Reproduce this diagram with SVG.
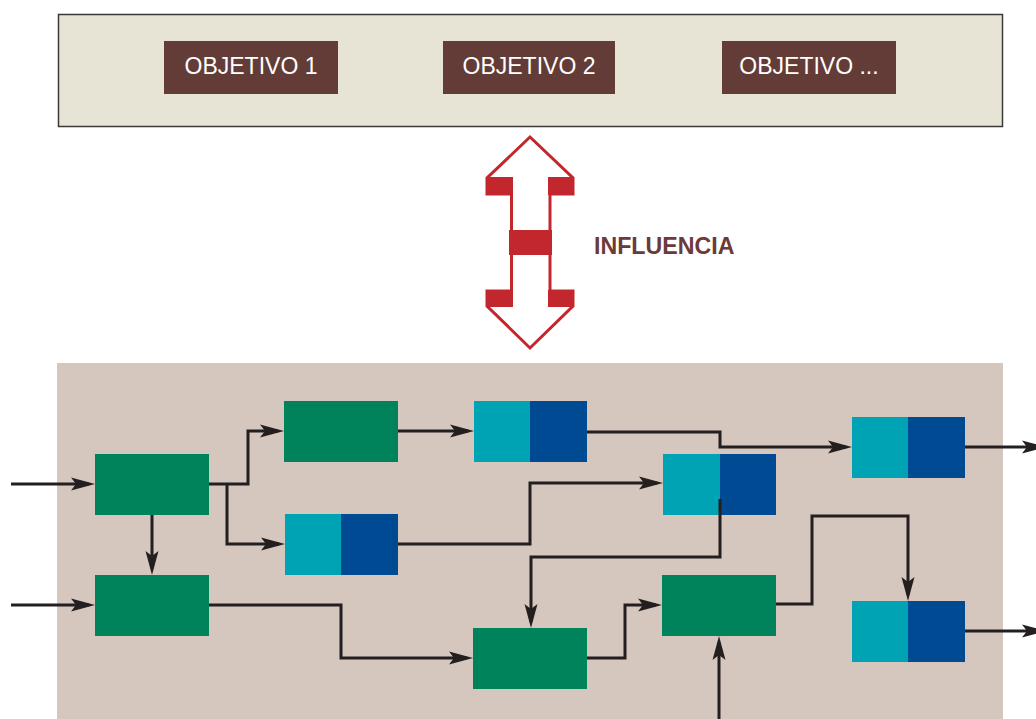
<svg xmlns="http://www.w3.org/2000/svg" width="1036" height="719" viewBox="0 0 1036 719">
<defs>
<style>
.obj{fill:#633c38}
.objt{fill:#ffffff;font-family:"Liberation Sans",Arial,sans-serif;font-size:23px;text-anchor:middle}
.green{fill:#00835a}
.cyan{fill:#00a3b4}
.blue{fill:#004a93}
.red{fill:#c1272d}
.conn{fill:none;stroke:#231f20;stroke-width:3;stroke-linejoin:miter}
.arr{marker-end:url(#ah)}
</style>
<marker id="ah" markerUnits="userSpaceOnUse" viewBox="0 0 24 14" refX="18" refY="7" markerWidth="24" markerHeight="14" orient="auto">
<path d="M0,0.5 L24,7 L0,13.5 L5,7 Z" fill="#231f20"/>
</marker>
</defs>
<rect width="1036" height="719" fill="#ffffff"/>

<g id="objetivos">
<rect x="58.5" y="14.5" width="944" height="112" fill="#e7e4d6" stroke="#3a3a3a" stroke-width="1.5"/>
<g id="objetivo1"><rect class="obj" x="164" y="41" width="174" height="53"/><text class="objt" x="251" y="74">OBJETIVO 1</text></g>
<g id="objetivo2"><rect class="obj" x="443" y="41" width="172" height="53"/><text class="objt" x="529" y="74">OBJETIVO 2</text></g>
<g id="objetivo3"><rect class="obj" x="722" y="41" width="174" height="53"/><text class="objt" x="809" y="74">OBJETIVO ...</text></g>
</g>

<g id="influencia">
<path d="M530,137 L573,178 L573,194 L550,194 L550,291 L573,291 L573,306 L530,348 L487,306 L487,291 L511.5,291 L511.5,194 L487,194 L487,178 Z" fill="#ffffff" stroke="#c1272d" stroke-width="3" stroke-linejoin="miter"/>
<rect class="red" x="487" y="177" width="26" height="18"/>
<rect class="red" x="548" y="177" width="26" height="18"/>
<rect class="red" x="509" y="230" width="43" height="25"/>
<rect class="red" x="487" y="290" width="26" height="17"/>
<rect class="red" x="548" y="290" width="26" height="17"/>
<text x="594" y="254" fill="#6b3a39" font-family="'Liberation Sans',Arial,sans-serif" font-size="23.2" font-weight="bold">INFLUENCIA</text>
</g>

<rect id="proceso" x="57" y="363" width="946" height="356" fill="#d5c6be"/>

<g id="nA"><rect class="green" x="95" y="454" width="114" height="61"/></g>
<g id="nB"><rect class="green" x="95" y="575" width="114" height="61"/></g>
<g id="nC"><rect class="green" x="284" y="401" width="114" height="61"/></g>
<g id="nD"><rect class="cyan" x="285" y="514" width="56" height="61"/><rect class="blue" x="341" y="514" width="57" height="61"/></g>
<g id="nE"><rect class="cyan" x="474" y="401" width="56" height="61"/><rect class="blue" x="530" y="401" width="57" height="61"/></g>
<g id="nF"><rect class="cyan" x="663" y="454" width="57" height="61"/><rect class="blue" x="720" y="454" width="56" height="61"/></g>
<g id="nG"><rect class="cyan" x="852" y="417" width="56" height="61"/><rect class="blue" x="908" y="417" width="57" height="61"/></g>
<g id="nH"><rect class="cyan" x="852" y="601" width="56" height="61"/><rect class="blue" x="908" y="601" width="57" height="61"/></g>
<g id="nI"><rect class="green" x="473" y="628" width="114" height="61"/></g>
<g id="nJ"><rect class="green" x="662" y="575" width="114" height="61"/></g>

<g id="connectors">
<path class="conn arr" d="M11,484 H89"/>
<path class="conn arr" d="M11,605 H89"/>
<path class="conn arr" d="M152,515 V569"/>
<path class="conn arr" d="M209,484 H248 V431 H278"/>
<path class="conn arr" d="M227,484 V544 H279"/>
<path class="conn arr" d="M209,605 H341 V658 H467"/>
<path class="conn arr" d="M398,431 H468"/>
<path class="conn arr" d="M398,544 H530 V483 H657"/>
<path class="conn arr" d="M587,432 H720 V447 H846"/>
<path class="conn arr" d="M720,499 V557 H531 V622"/>
<path class="conn arr" d="M587,658 H625 V605 H656"/>
<path class="conn arr" d="M776,604 H812 V516 H908 V595"/>
<path class="conn arr" d="M719,719 V642"/>
<path class="conn arr" d="M965,447 H1040"/>
<path class="conn arr" d="M965,631 H1040"/>
</g>
</svg>
